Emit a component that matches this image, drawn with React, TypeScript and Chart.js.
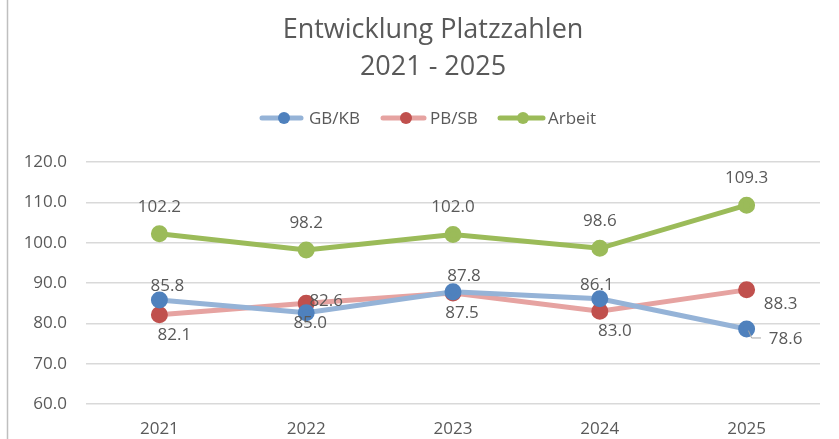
import React, { useEffect, useRef } from "react";
import { Chart, registerables } from "chart.js";

Chart.register(...registerables);

const categories = ["2021", "2022", "2023", "2024", "2025"];
const gbkb = [85.8, 82.6, 87.8, 86.1, 78.6];
const pbsb = [82.1, 85.0, 87.5, 83.0, 88.3];
const arbeit = [102.2, 98.2, 102.0, 98.6, 109.3];
const seriesNames = ["GB/KB", "PB/SB", "Arbeit"];
const titleLines = ["Entwicklung Platzzahlen", "2021 - 2025"];

// label offsets (px) relative to each point, per series
const labelOffsets = [
  [[8, -14], [20, -12], [11, -16], [-3, -14], [39, 10]],
  [[15, 20], [4, 20], [9, 20], [15, 20], [34, 14]],
  [[0, -27], [0, -27], [0, -27], [0, -27], [0, -27]],
];

const FONT = "'Open Sans', 'Liberation Sans', sans-serif";
const TEXT = "#595959";
const lineColors = ["#95B3D7", "#E6A3A1", "#9BBB59"];
const markerColors = ["#4F81BD", "#C0504D", "#9BBB59"];

const decorPlugin = {
  id: "decor",
  beforeDraw(chart: any) {
    const ctx = chart.ctx;
    ctx.save();
    ctx.fillStyle = "#ffffff";
    ctx.fillRect(0, 0, chart.width, chart.height);
    ctx.strokeStyle = "#BFBFBF";
    ctx.lineWidth = 1.5;
    ctx.beginPath();
    ctx.moveTo(7.5, 0);
    ctx.lineTo(7.5, chart.height);
    ctx.stroke();
    ctx.restore();
  },
  afterDraw(chart: any) {
    const ctx = chart.ctx;
    ctx.save();
    // title
    ctx.fillStyle = TEXT;
    ctx.textAlign = "center";
    ctx.textBaseline = "middle";
    ctx.font = `27px ${FONT}`;
    ctx.fillText(titleLines[0], 433, 30);
    ctx.fillText(titleLines[1], 433, 67);
    // legend
    const items = [
      { x0: 262, x1: 301, m: 284, t: 309 },
      { x0: 383, x1: 424, m: 406, t: 430 },
      { x0: 500, x1: 543, m: 523, t: 548 },
    ];
    ctx.font = `17px ${FONT}`;
    ctx.textAlign = "left";
    items.forEach((it, i) => {
      const y = 118;
      ctx.strokeStyle = lineColors[i];
      ctx.lineWidth = 5;
      ctx.lineCap = "round";
      ctx.beginPath();
      ctx.moveTo(it.x0, y);
      ctx.lineTo(it.x1, y);
      ctx.stroke();
      ctx.fillStyle = markerColors[i];
      ctx.beginPath();
      ctx.arc(it.m, y, 6, 0, Math.PI * 2);
      ctx.fill();
      ctx.fillStyle = TEXT;
      ctx.fillText(chart.data.datasets[i].label, it.t, y + 1);
    });
    // data labels
    ctx.textAlign = "center";
    ctx.font = `17px ${FONT}`;
    chart.data.datasets.forEach((ds: any, di: number) => {
      const meta = chart.getDatasetMeta(di);
      meta.data.forEach((pt: any, pi: number) => {
        const [dx, dy] = labelOffsets[di][pi];
        const v = ds.data[pi];
        if (di === 0 && pi === 4) {
          ctx.strokeStyle = "#A6A6A6";
          ctx.lineWidth = 1;
          ctx.beginPath();
          ctx.moveTo(pt.x + 2, pt.y + 2);
          ctx.lineTo(pt.x + 5, pt.y + 9);
          ctx.lineTo(pt.x + 14, pt.y + 9);
          ctx.stroke();
        }
        ctx.fillStyle = TEXT;
        ctx.fillText(v.toFixed(1), pt.x + dx, pt.y + dy);
      });
    });
    ctx.restore();
  },
};

export default function App() {
  const ref = useRef<HTMLCanvasElement>(null);
  useEffect(() => {
    const mk = (i: number, data: number[]) => ({
      label: seriesNames[i],
      data,
      borderColor: lineColors[i],
      backgroundColor: markerColors[i],
      pointBackgroundColor: markerColors[i],
      pointBorderColor: markerColors[i],
      borderWidth: 5,
      pointRadius: 6,
      pointHoverRadius: 6,
      tension: 0,
    });
    const chart = new Chart(ref.current as HTMLCanvasElement, {
      type: "line",
      data: {
        labels: categories,
        datasets: [mk(0, gbkb), mk(1, pbsb), mk(2, arbeit)],
      },
      options: {
        animation: false,
        responsive: false,
        devicePixelRatio: 1,
        layout: { padding: { top: 162, right: 19, left: 0, bottom: 0 } },
        plugins: {
          legend: { display: false },
          title: { display: false },
          tooltip: { enabled: false },
        },
        scales: {
          x: {
            offset: true,
            grid: { display: false, drawTicks: false },
            border: { display: false },
            ticks: { color: TEXT, font: { family: FONT, size: 17 }, padding: 15 },
            afterFit: (s: any) => {
              s.height = 35;
            },
          },
          y: {
            min: 60,
            max: 120,
            ticks: {
              stepSize: 10,
              color: TEXT,
              font: { family: FONT, size: 17 },
              padding: 19,
              callback: (v: any) => Number(v).toFixed(1),
            },
            grid: { color: "#D9D9D9", lineWidth: 1.5, drawTicks: false },
            border: { display: false },
            afterFit: (s: any) => {
              s.width = 86;
            },
          },
        },
      },
      plugins: [decorPlugin],
    });
    return () => chart.destroy();
  }, []);
  return (
    <div style={{ position: "fixed", left: 0, top: 0, width: 839, height: 439, background: "#fff" }}>
      <canvas ref={ref} width={839} height={439} style={{ width: 839, height: 439, display: "block" }} />
    </div>
  );
}
